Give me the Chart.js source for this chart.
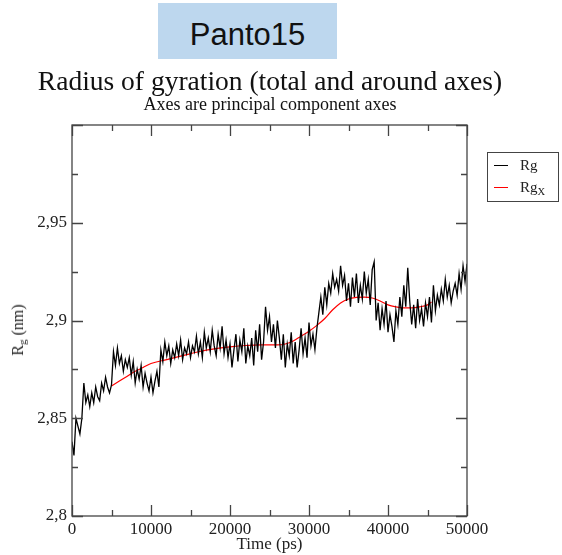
<!DOCTYPE html>
<html>
<head>
<meta charset="utf-8">
<script src="https://cdn.jsdelivr.net/npm/chart.js@4/dist/chart.umd.min.js"></script>
<style>
  html, body { margin: 0; padding: 0; background: #fff; }
  #wrap { position: relative; width: 562px; height: 555px; overflow: hidden; }
  #c { position: absolute; left: 0; top: 0; }
  .abs { position: absolute; white-space: nowrap; }
  #header { left: 158px; top: 3px; width: 179px; height: 56px; background: #bdd7ee; }
  #headerText { left: 158px; top: 19px; width: 179px; text-align: center; font: 31px/31px "Liberation Sans", Arial, sans-serif; color: #111; }
  #title { left: 0px; width: 540px; top: 67px; text-align: center; font: 27.5px/27px "Liberation Serif", "Times New Roman", serif; color: #111; }
  #subtitle { left: 0px; width: 540px; top: 95px; text-align: center; font: 18px/18px "Liberation Serif", "Times New Roman", serif; color: #111; }
  #ytitle { left: 18px; top: 330px; transform: translate(-50%, -50%) rotate(-90deg); font: 16px/16px "Liberation Serif", "Times New Roman", serif; color: #222; }
  #legend { left: 487px; top: 152px; width: 70px; height: 48px; border: 1px solid #444; font: 15px/15px "Liberation Serif", "Times New Roman", serif; color: #222; }
  .row { position: absolute; left: 0; height: 16px; }
  .sw { position: absolute; left: 6px; top: 7px; width: 14px; height: 1px; }
  .lab { position: absolute; left: 32px; top: 0px; }
  sub { font-size: 70%; vertical-align: -3px; line-height: 0; }
</style>
</head>
<body>
<div id="wrap">
  <canvas id="c" width="562" height="555"></canvas>
  <div class="abs" id="header"></div>
  <div class="abs" id="headerText">Panto15</div>
  <div class="abs" id="title">Radius of gyration (total and around axes)</div>
  <div class="abs" id="subtitle">Axes are principal component axes</div>
  <div class="abs" id="ytitle">R<sub>g</sub> (nm)</div>
  <div class="abs" id="legend"></div>
</div>
<script>
// ---- data ----
const timeStep = 250; // ps between Rg samples
const rgValues = [
  2.838, 2.831, 2.850, 2.846, 2.842,
  2.850, 2.868, 2.858, 2.862,
  2.856, 2.863, 2.858, 2.866, 2.861, 2.859,
  2.868, 2.864, 2.871, 2.866, 2.863, 2.867,
  2.884, 2.877, 2.886,
  2.878, 2.882, 2.874, 2.880, 2.876, 2.881,
  2.872, 2.879, 2.868, 2.875, 2.870, 2.877, 2.866, 2.873, 2.868, 2.864,
  2.871, 2.863, 2.869, 2.874, 2.866,
  2.885, 2.879, 2.889, 2.882, 2.887, 2.878, 2.885, 2.881,
  2.888, 2.882, 2.890, 2.880, 2.886, 2.883, 2.889, 2.881, 2.887, 2.884,
  2.892, 2.883, 2.889, 2.881, 2.894, 2.886, 2.891, 2.884, 2.895, 2.887,
  2.882, 2.893, 2.886, 2.897, 2.883, 2.890, 2.881, 2.888, 2.876,
  2.885, 2.893, 2.879, 2.890, 2.884, 2.896, 2.878, 2.887, 2.882,
  2.891, 2.877, 2.895, 2.884, 2.898, 2.880, 2.889, 2.907,
  2.895, 2.902, 2.889, 2.898, 2.886, 2.900, 2.891,
  2.880, 2.893, 2.876, 2.888, 2.882,
  2.894, 2.878, 2.889, 2.876, 2.885,
  2.896, 2.883, 2.891, 2.881, 2.899, 2.887, 2.893,
  2.885, 2.896,
  2.904, 2.912, 2.903, 2.917, 2.908, 2.919,
  2.914, 2.924, 2.917, 2.921, 2.915, 2.928, 2.918, 2.923,
  2.910, 2.919, 2.907, 2.922, 2.912, 2.924, 2.909, 2.918,
  2.911, 2.925, 2.914, 2.921, 2.908, 2.926, 2.930,
  2.900, 2.909, 2.895, 2.906, 2.898, 2.910, 2.894, 2.903,
  2.897, 2.889, 2.905, 2.898, 2.912,
  2.902, 2.918, 2.907, 2.927, 2.910,
  2.898, 2.908, 2.896, 2.911, 2.900, 2.906, 2.897, 2.909,
  2.902, 2.912, 2.899, 2.918, 2.905, 2.913, 2.908,
  2.916, 2.910, 2.921, 2.912, 2.918, 2.909, 2.915, 2.919,
  2.913, 2.924, 2.916, 2.928, 2.920, 2.929
];
const rgxTimes = [5000, 6000, 7000, 8000, 9000, 10000, 12000, 14000, 16000, 18000, 20000,
  22000, 24000, 26000, 27000, 28000, 29000, 30000, 31000, 32000, 33000, 34000, 35000,
  36000, 37000, 38000, 39000, 40000, 41000, 42000, 43000, 44000, 45000, 45500];
const rgxValues = [2.8665, 2.869, 2.8715, 2.874, 2.876, 2.878, 2.880, 2.882, 2.884, 2.8855, 2.8865,
  2.8872, 2.8875, 2.8875, 2.888, 2.8895, 2.892, 2.8945, 2.8975, 2.901, 2.9055, 2.909, 2.911,
  2.9118, 2.912, 2.9115, 2.910, 2.908, 2.907, 2.9065, 2.9065, 2.907, 2.908, 2.9095];
const seriesNames = ['Rg', 'RgX'];
const seriesColors = ['#000000', '#ff0000'];
const xTicks = [0, 10000, 20000, 30000, 40000, 50000];
const xMinorTicks = [5000, 15000, 25000, 35000, 45000];
const yTicks = [2.8, 2.85, 2.9, 2.95, 3.0];
const yTickLabels = ['2,8', '2,85', '2,9', '2,95', ''];
const yMinorTicks = [2.825, 2.875, 2.925, 2.975];

// ---- build datasets ----
const rgData = rgValues.map((v, i) => ({ x: i * timeStep, y: v }));
const rgxData = rgxTimes.map((t, i) => ({ x: t, y: rgxValues[i] }));

// legend (HTML, for the subscript)
const legendEl = document.getElementById('legend');
seriesNames.forEach((name, i) => {
  const row = document.createElement('div');
  row.className = 'row';
  row.style.top = (5 + i * 22) + 'px';
  row.style.width = '70px';
  const sw = document.createElement('div');
  sw.className = 'sw';
  sw.style.background = seriesColors[i];
  const lab = document.createElement('div');
  lab.className = 'lab';
  lab.innerHTML = name === 'RgX' ? 'Rg<sub>X</sub>' : name;
  row.appendChild(sw); row.appendChild(lab);
  legendEl.appendChild(row);
});

const serif = 'Liberation Serif, Times New Roman, serif';

const boxTicks = {
  id: 'boxTicks',
  afterDraw(chart) {
    const { ctx, chartArea: a, scales } = chart;
    const xs = scales.x, ys = scales.y;
    ctx.save();
    ctx.strokeStyle = '#444';
    ctx.lineWidth = 1.3;
    ctx.strokeRect(a.left, a.top, a.right - a.left, a.bottom - a.top);
    ctx.beginPath();
    const major = 11, minor = 6;
    xTicks.forEach(v => { const p = Math.round(xs.getPixelForValue(v)) + 0.5;
      ctx.moveTo(p, a.bottom); ctx.lineTo(p, a.bottom - major);
      ctx.moveTo(p, a.top); ctx.lineTo(p, a.top + major); });
    xMinorTicks.forEach(v => { const p = Math.round(xs.getPixelForValue(v)) + 0.5;
      ctx.moveTo(p, a.bottom); ctx.lineTo(p, a.bottom - minor);
      ctx.moveTo(p, a.top); ctx.lineTo(p, a.top + minor); });
    yTicks.forEach(v => { const p = Math.round(ys.getPixelForValue(v)) + 0.5;
      ctx.moveTo(a.left, p); ctx.lineTo(a.left + major, p);
      ctx.moveTo(a.right, p); ctx.lineTo(a.right - major, p); });
    yMinorTicks.forEach(v => { const p = Math.round(ys.getPixelForValue(v)) + 0.5;
      ctx.moveTo(a.left, p); ctx.lineTo(a.left + minor, p);
      ctx.moveTo(a.right, p); ctx.lineTo(a.right - minor, p); });
    ctx.stroke();
    ctx.restore();
  }
};

new Chart(document.getElementById('c'), {
  type: 'line',
  data: {
    datasets: [
      { label: seriesNames[0], data: rgData, borderColor: seriesColors[0], borderWidth: 1.3, pointRadius: 0, tension: 0, fill: false },
      { label: seriesNames[1], data: rgxData, borderColor: seriesColors[1], borderWidth: 1.2, pointRadius: 0, tension: 0.4, cubicInterpolationMode: 'monotone', fill: false }
    ]
  },
  options: {
    responsive: false,
    animation: false,
    layout: { padding: { left: 0, right: 95, top: 125, bottom: 0 } },
    plugins: { legend: { display: false }, title: { display: false }, tooltip: { enabled: false } },
    scales: {
      x: {
        type: 'linear', min: 0, max: 50000,
        afterFit(s) { s.height = 39; },
        afterBuildTicks(s) { s.ticks = xTicks.map(v => ({ value: v })); },
        grid: { display: false, drawTicks: false },
        border: { display: false },
        ticks: { padding: 3, color: '#222', autoSkip: false, maxRotation: 0,
          font: { family: serif, size: 17 }, callback: v => String(v) },
        title: { display: true, text: 'Time (ps)', color: '#222',
          font: { family: serif, size: 17 }, padding: { top: 0, bottom: 0 } }
      },
      y: {
        type: 'linear', min: 2.8, max: 3.0,
        afterFit(s) { s.width = 72; },
        afterBuildTicks(s) { s.ticks = yTicks.map(v => ({ value: v })); },
        grid: { display: false, drawTicks: false },
        border: { display: false },
        ticks: { padding: 5, color: '#222', autoSkip: false,
          font: { family: serif, size: 17 },
          callback: (v) => { const i = yTicks.findIndex(t => Math.abs(t - v) < 1e-9); return i >= 0 ? yTickLabels[i] : ''; } }
      }
    }
  },
  plugins: [boxTicks]
});
</script>
</body>
</html>
